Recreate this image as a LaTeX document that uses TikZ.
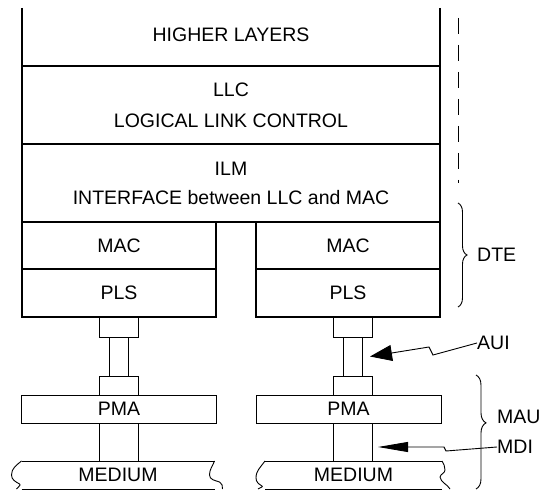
\documentclass[tikz,border=0pt]{standalone}
\usepackage{fontspec}
\setmainfont{Liberation Sans}
\usepackage{tikz}
\usetikzlibrary{arrows.meta,positioning,decorations.pathreplacing}

\begin{document}
\begin{tikzpicture}[x=1pt, y=1pt,
  font=\fontsize{19.5}{23}\selectfont,
  layer/.style={rectangle, draw, line width=1.3pt, minimum width=418pt, inner sep=0pt, outer sep=0pt, align=center},
  plug/.style={rectangle, draw, line width=0.9pt, minimum width=39pt, inner sep=0pt, outer sep=0pt},
  tube/.style={plug, minimum width=19pt, minimum height=39pt},
  medium/.style={rectangle, minimum height=28pt, inner sep=0pt, outer sep=0pt},
  lbl/.style={anchor=west, inner sep=0pt},
  thin/.style={line width=0.9pt},
  brc/.style={decorate, decoration={brace, amplitude=9pt}, line width=0.9pt},
  arr/.style={-{Triangle[length=22pt, width=16pt]}, line width=0.9pt}]
\useasboundingbox (0,0) rectangle (550,491);
% station stack
\node[layer, draw=none, minimum height=58pt] (higher) at (231,454) {\raisebox{4pt}{HIGHER LAYERS}};
\node[layer, minimum height=78pt, below=0pt of higher] (llc) {LLC\\[8pt]LOGICAL LINK CONTROL};
\node[layer, minimum height=78pt, below=0pt of llc] (ilm) {ILM\\[6pt]INTERFACE between LLC and MAC};
\draw[line width=1.3pt] (higher.north west) -- (higher.south west) (higher.north east) -- (higher.south east);
\node[layer, minimum width=194pt, minimum height=47pt, anchor=north west] (macL) at (ilm.south west) {MAC};
\node[layer, minimum width=194pt, minimum height=48pt, below=0pt of macL] (plsL) {PLS};
\node[layer, minimum width=184pt, minimum height=47pt, anchor=north east] (macR) at (ilm.south east) {MAC};
\node[layer, minimum width=184pt, minimum height=48pt, below=0pt of macR] (plsR) {PLS};
% left attachment
\node[plug, minimum height=20pt, below=0pt of plsL] (topL) {};
\node[tube, below=0pt of topL] (tubeL) {};
\node[plug, minimum height=19pt, below=0pt of tubeL] (botL) {};
\node[plug, minimum width=195pt, minimum height=28pt, below=0pt of botL] (pmaL) {PMA};
\node[plug, minimum height=38pt, below=0pt of pmaL] (stemL) {};
\node[medium, minimum width=193pt, below=0pt of stemL, xshift=-1pt] (medL) {\raisebox{-3pt}{MEDIUM}};
% right attachment
\node[plug, minimum height=20pt, below=0pt of plsR, xshift=4.5pt] (topR) {};
\node[tube, below=0pt of topR] (tubeR) {};
\node[plug, minimum height=19pt, below=0pt of tubeR] (botR) {};
\node[plug, minimum width=185pt, minimum height=28pt, below=0pt of botR, xshift=-4pt] (pmaR) {PMA};
\node[plug, minimum height=38pt, below=0pt of pmaR, xshift=4pt] (stemR) {};
\node[medium, minimum width=177pt, below=0pt of stemR, xshift=1pt] (medR) {\raisebox{-3pt}{MEDIUM}};
% medium edges and break marks
\foreach \m in {medL,medR}
  \draw[thin] (\m.north west) -- (\m.north east) (\m.south west) -- (\m.south east);
\draw[thin] (medL.north west) to[out=220,in=90] ++(-10,-14) to[out=-90,in=150] ++(8,-9) to[out=-30,in=60] ++(-3,-5);
\draw[thin] (medL.north east) to[out=250,in=90] ++(-5,-14) to[out=-90,in=160] ++(10,-7) to[out=-20,in=90] ++(3,-7);
\draw[thin] (medR.north west) to[out=235,in=90] ++(-9,-17) to[out=-90,in=150] ++(6,-8) to[out=-30,in=45] ++(-4,-3);
\draw[thin] (medR.north east) to[out=-60,in=90] ++(3,-9) to[out=-90,in=80] ++(-5,-7) to[out=-80,in=120] ++(10,-12);
% annotations
\draw[thin, dash pattern=on 16pt off 11pt] (458,473) -- (458,308);
\draw[brc] (458,288) -- (458,184);
\node[lbl] (dte) at (477,236) {DTE};
\draw[brc, decoration={brace, amplitude=10pt, aspect=0.42}] (476,116) -- (476,2);
\node[lbl] (mau) at (497,74) {MAU};
\node[lbl] (mdi) at (497,44) {MDI};
\node[lbl] (aui) at (477,148) {AUI};
\draw[arr] (aui.west) -- ++(-44,-12) -- ++(-4,8) -- ([xshift=8pt]tubeR.east);
\draw[arr, -{Triangle[length=30pt, width=10pt]}] (mdi.west) -- ++(-51,-4) -- ++(-2,4) -- ([xshift=6pt]stemR.east |- mdi.west);
\end{tikzpicture}
\end{document}
